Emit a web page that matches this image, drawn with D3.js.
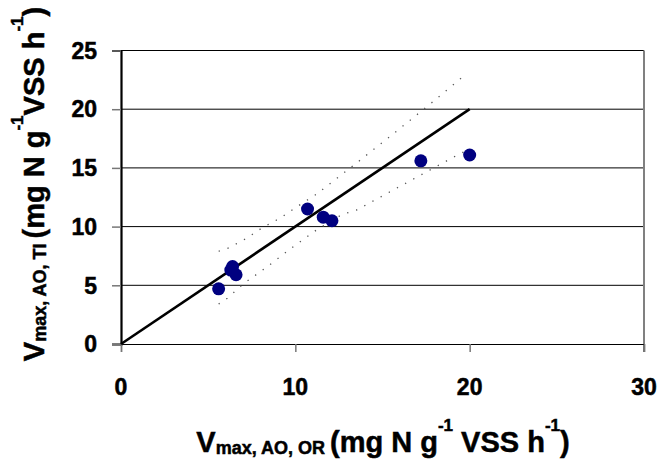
<!DOCTYPE html>
<html><head><meta charset="utf-8">
<script src="https://cdn.jsdelivr.net/npm/d3@7/dist/d3.min.js"></script>
<style>body{margin:0;background:#fff}svg{display:block}text{font-family:"Liberation Sans",Arial,sans-serif;font-weight:bold;fill:#000;stroke:#000;stroke-width:0.5px}</style>
</head><body><svg id="c" width="661" height="464"></svg>
<script>
const xObs = [5.6, 6.4, 6.3, 6.6, 10.7, 11.6, 12.1, 17.2, 20.0];
const yObs = [4.7, 6.6, 6.3, 5.9, 11.5, 10.8, 10.5, 15.6, 16.1];
const fitX = [0, 20];
const fitY = [0, 20];
const upperX = [5.6, 6.2, 7.2, 8.1, 9.1, 10.0, 11.2, 13.5, 15.7, 17.7, 19.8];
const upperY = [7.9, 8.2, 9.0, 9.9, 10.7, 11.6, 12.75, 15.4, 18.0, 20.4, 23.0];
const lowerX = [5.6, 6.1, 7.0, 8.4, 9.8, 11.2, 12.7, 13.5, 15.6, 19.3, 19.7];
const lowerY = [3.4, 3.9, 5.1, 6.6, 8.2, 9.7, 11.05, 11.4, 13.1, 16.1, 16.4];
const xTicks = [0, 10, 20, 30];
const yTicks = [0, 5, 10, 15, 20, 25];

const svg = d3.select("#c");
const L = 121, R = 644, T = 50.5, B = 344;
const x = d3.scaleLinear().domain([0, 30]).range([L, R]);
const y = d3.scaleLinear().domain([0, 25]).range([B, T]);

// grid lines
svg.append("g").selectAll("line").data(yTicks.filter(d => d > 0)).join("line")
  .attr("x1", L).attr("x2", R).attr("y1", d => y(d)).attr("y2", d => y(d))
  .attr("stroke", "#000").attr("stroke-width", 1);

// right border
svg.append("line").attr("x1", R).attr("x2", R).attr("y1", T).attr("y2", B + 8)
  .attr("stroke", "#808080").attr("stroke-width", 2);

// axes (tick marks only; labels drawn below from the same scales)
const yAxis = svg.append("g").attr("transform", `translate(${L},0)`)
  .call(d3.axisLeft(y).tickValues(yTicks).tickSize(9).tickFormat(""));
const xAxis = svg.append("g").attr("transform", `translate(0,${B})`)
  .call(d3.axisBottom(x).tickValues(xTicks).tickSize(8).tickFormat(""));
yAxis.select(".domain").attr("stroke", "#000").attr("stroke-width", 2.2);
xAxis.select(".domain").attr("stroke", "#000").attr("stroke-width", 1.2);
svg.selectAll(".tick line").attr("stroke", "#777").attr("stroke-width", 1.5);

svg.append("g").selectAll("text").data(yTicks).join("text")
  .attr("x", 97).attr("y", d => y(d)).attr("dy", "0.36em").attr("text-anchor", "end")
  .attr("font-size", 23)
  .text(d => d);
svg.append("g").selectAll("text").data(xTicks).join("text")
  .attr("x", d => x(d)).attr("y", 395).attr("text-anchor", "middle")
  .attr("font-size", 23)
  .text(d => d);

// bands
const band = (xs, ys) => d3.line().x((d, i) => x(xs[i])).y((d, i) => y(ys[i]))(xs);
svg.append("path").attr("d", band(upperX, upperY)).attr("fill", "none")
  .attr("stroke", "#555").attr("stroke-width", 1.3).attr("stroke-dasharray", "1.3,8");
svg.append("path").attr("d", band(lowerX, lowerY)).attr("fill", "none")
  .attr("stroke", "#555").attr("stroke-width", 1.3).attr("stroke-dasharray", "1.3,8");

// fit line
svg.append("path").attr("d", band(fitX, fitY)).attr("fill", "none")
  .attr("stroke", "#000").attr("stroke-width", 2.6);

// points
svg.append("g").selectAll("circle").data(xObs).join("circle")
  .attr("cx", (d) => x(d)).attr("cy", (d, i) => y(yObs[i])).attr("r", 6.5)
  .attr("fill", "#000080");

// x title
const xt = svg.append("text").attr("x", 383).attr("y", 452).attr("text-anchor", "middle").attr("font-size", 29);
xt.append("tspan").text("V");
xt.append("tspan").attr("font-size", 18).attr("dy", 2).text("max, AO, OR ");
xt.append("tspan").attr("dy", -2).text("(mg N g");
xt.append("tspan").attr("font-size", 17).attr("dy", -21).text("-1");
xt.append("tspan").attr("dy", 21).text(" VSS h");
xt.append("tspan").attr("font-size", 17).attr("dy", -21).text("-1");
xt.append("tspan").attr("dy", 21).text(")");

// y title
const yt = svg.append("text").attr("transform", "translate(44,184) rotate(-90)").attr("text-anchor", "middle").attr("font-size", 29);
yt.append("tspan").text("V");
yt.append("tspan").attr("font-size", 18).attr("dy", 2).text("max, AO, TI  ");
yt.append("tspan").attr("dy", -2).text("(mg N g");
yt.append("tspan").attr("font-size", 17).attr("dy", -21).text("-1");
yt.append("tspan").attr("dy", 21).text("VSS h");
yt.append("tspan").attr("font-size", 17).attr("dy", -21).text("-1");
yt.append("tspan").attr("dy", 21).text(")");
</script></body></html>
